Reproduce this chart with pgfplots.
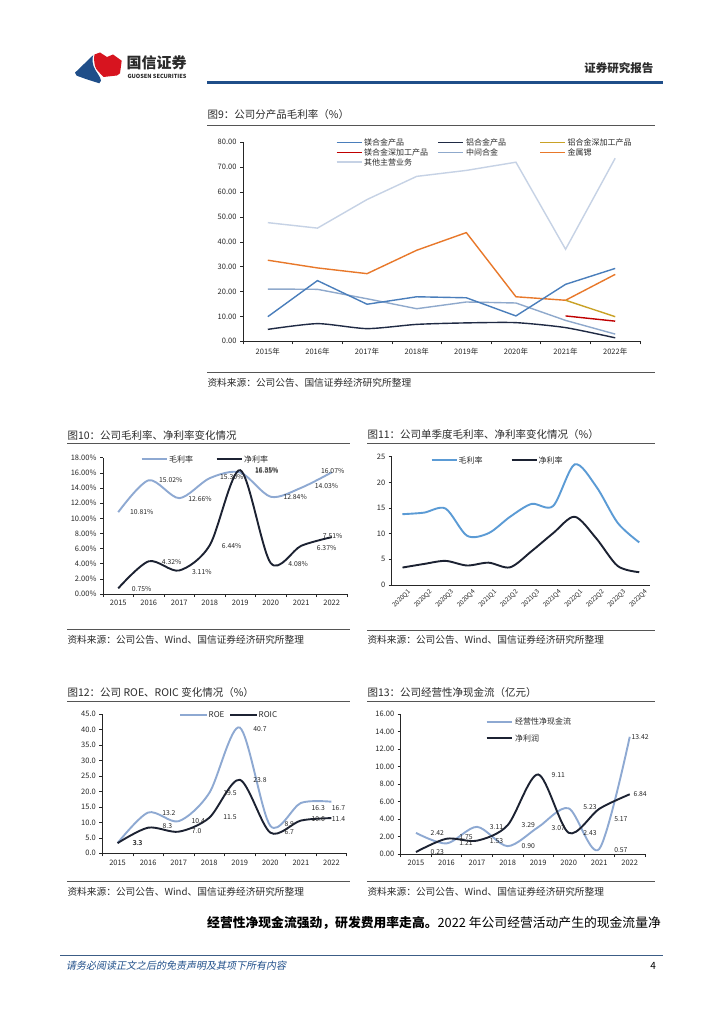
\documentclass[border=0pt]{standalone}
\usepackage{fontspec}
\setmainfont{Noto Sans CJK SC}
\newfontfamily\slcjk[FakeSlant=0.2]{Noto Sans CJK SC}
\usepackage{pgfplots}
\pgfplotsset{compat=1.18}

\definecolor{gsblue}{HTML}{1F4E89}
\definecolor{gsred}{HTML}{D7141F}
\definecolor{cMg}{HTML}{4A7EBB}
\definecolor{cAl}{HTML}{1F2A44}
\definecolor{cAlD}{HTML}{C9A227}
\definecolor{cMgD}{HTML}{C00000}
\definecolor{cMid}{HTML}{8FA9CC}
\definecolor{cSr}{HTML}{E8782A}
\definecolor{cOth}{HTML}{C6D2E5}
\definecolor{cGray}{HTML}{8EA9D2}
\definecolor{cDark}{HTML}{1C2232}
\definecolor{cBlue}{HTML}{5B9BD5}
\definecolor{txt}{HTML}{2B2B2B}
\definecolor{rule}{HTML}{555555}

\pgfplotsset{
  base/.style={scale only axis, anchor=south west, axis lines=left,
    axis line style={-, black!85, line width=0.6pt},
    tick align=outside, major tick length=3pt,
    tick style={black!85, line width=0.6pt},
    ticklabel style={font=\fontsize{7.5}{8}\selectfont, text=black!85},
    /pgf/number format/assume math mode=true, clip=false},
  catx/.style={xmin=-0.5, xmax=7.5, xtick={0,...,7},
    major x tick style={draw=none},
    minor xtick={-0.5,0.5,...,7.5},
    minor x tick style={draw=black!85, line width=0.6pt},
    minor tick length=3pt},
}
\tikzset{dl/.style={font=\fontsize{6.8}{7}\selectfont, text=black!85, inner sep=0pt},
  ttl/.style={anchor=west, font=\fontsize{10.5}{11}\selectfont, text=txt},
  src/.style={anchor=west, font=\fontsize{9.7}{10}\selectfont, text=txt},
  lg/.style={anchor=west, font=\fontsize{8}{8}\selectfont, text=txt, inner sep=1pt}}

\begin{document}
\begin{tikzpicture}
\begin{scope}[x=1pt,y=1pt]
\fill[white] (0,0) rectangle (724,-1024);
% ---------- header ----------
\fill[gsblue] (93.3,-55) -- (75,-72.7) -- (76.7,-75.7) -- (86.7,-79.3) -- (99.3,-83.3) -- (101,-80.7)
  .. controls (101,-77) and (95,-71) .. (93.5,-66) .. controls (92,-61) and (92.5,-57) .. (93.3,-55) -- cycle;
\fill[gsred] (94.5,-54.5) -- (100,-52.5) -- (107,-57) -- (113,-54.5) -- (121.7,-60.7) -- (120,-73.3) -- (117,-75.5) -- (103.5,-77)
  .. controls (100,-73) and (96,-70) .. (95,-66) .. controls (93.8,-61) and (94,-57) .. (94.5,-54.5) -- cycle;
\node[anchor=west, font=\fontsize{15}{15}\selectfont\bfseries, text=txt] at (123,-62.5) {国信证券};
\node[anchor=west, font=\fontsize{5.6}{6}\selectfont\bfseries, text=txt] at (124,-76) {GUOSEN SECURITIES};
\node[anchor=east, font=\fontsize{11.5}{12}\selectfont\bfseries, text=txt] at (657,-68.3) {证券研究报告};
\draw[gsblue, line width=2.2pt] (207,-82.5) -- (663,-82.5);

% ---------- chart 9 frame ----------
\node[ttl] at (204,-115) {图9：公司分产品毛利率（\%）};
\draw[rule, line width=0.8pt] (207,-125) -- (655,-125);
\draw[rule, line width=0.8pt] (207,-372.3) -- (655,-372.3);
\node[src] at (204,-383.3) {资料来源：公司公告、国信证券经济研究所整理};
% legend 9
\draw[cMg, line width=1.5pt] (336.7,-142.3) -- (361.7,-142.3); \node[lg] at (363,-142.3) {镁合金产品};
\draw[cAl, line width=1.5pt] (438.3,-142.3) -- (463.3,-142.3); \node[lg] at (465,-142.3) {铝合金产品};
\draw[cAlD, line width=1.5pt] (540,-142.3) -- (565,-142.3); \node[lg] at (566.5,-142.3) {铝合金深加工产品};
\draw[cMgD, line width=1.5pt] (336.7,-152.3) -- (361.7,-152.3); \node[lg] at (363,-152.3) {镁合金深加工产品};
\draw[cMid, line width=1.5pt] (438.3,-152.3) -- (463.3,-152.3); \node[lg] at (465,-152.3) {中间合金};
\draw[cSr, line width=1.5pt] (540,-152.3) -- (565,-152.3); \node[lg] at (566.5,-152.3) {金属锶};
\draw[cOth, line width=1.5pt] (336.7,-162) -- (361.7,-162); \node[lg] at (363,-162) {其他主营业务};

% ---------- chart 10 frame ----------
\node[ttl] at (64,-435) {图10：公司毛利率、净利率变化情况};
\draw[rule, line width=0.8pt] (67,-443.3) -- (350,-443.3);
\draw[rule, line width=0.8pt] (67,-629.3) -- (350,-629.3);
\node[src] at (64,-640) {资料来源：公司公告、Wind、国信证券经济研究所整理};
\draw[cGray, line width=2pt] (141.7,-459) -- (166.7,-459); \node[lg] at (168,-459) {毛利率};
\draw[cDark, line width=2pt] (216.7,-459) -- (241.7,-459); \node[lg] at (243,-459) {净利率};

% ---------- chart 11 frame ----------
\node[ttl] at (364,-435) {图11：公司单季度毛利率、净利率变化情况（\%）};
\draw[rule, line width=0.8pt] (367,-443.3) -- (655,-443.3);
\draw[rule, line width=0.8pt] (367,-630.3) -- (655,-630.3);
\node[src] at (364,-640) {资料来源：公司公告、Wind、国信证券经济研究所整理};
\draw[cBlue, line width=2pt] (431.7,-460) -- (456.7,-460); \node[lg] at (457.5,-460) {毛利率};
\draw[cDark, line width=2pt] (511.7,-460) -- (536.7,-460); \node[lg] at (537.5,-460) {净利率};

% ---------- chart 12 frame ----------
\node[ttl] at (64,-692.7) {图12：公司 ROE、ROIC 变化情况（\%）};
\draw[rule, line width=0.8pt] (67,-701.7) -- (350,-701.7);
\draw[rule, line width=0.8pt] (67,-881) -- (350,-881);
\node[src] at (64,-891.5) {资料来源：公司公告、Wind、国信证券经济研究所整理};
\draw[cGray, line width=2pt] (180,-715) -- (206.7,-715); \node[lg] at (207.5,-715) {ROE};
\draw[cDark, line width=2pt] (230,-715) -- (256.7,-715); \node[lg] at (257.5,-715) {ROIC};

% ---------- chart 13 frame ----------
\node[ttl] at (364,-692.7) {图13：公司经营性净现金流（亿元）};
\draw[rule, line width=0.8pt] (367,-701.7) -- (655,-701.7);
\draw[rule, line width=0.8pt] (367,-881) -- (655,-881);
\node[src] at (364,-891.5) {资料来源：公司公告、Wind、国信证券经济研究所整理};
\draw[cGray, line width=2pt] (486.7,-721.7) -- (511.7,-721.7); \node[lg] at (514,-721.7) {经营性净现金流};
\draw[cDark, line width=2pt] (486.7,-738.3) -- (511.7,-738.3); \node[lg] at (514,-738.3) {净利润};

% ---------- body text & footer ----------
\node[anchor=west, font=\fontsize{12.8}{13}\selectfont, text=black, inner sep=0pt] at (207,-923)
  {{\bfseries 经营性净现金流强劲，研发费用率走高。}2022 年公司经营活动产生的现金流量净};
\draw[gsblue!70!gray, line width=0.7pt] (60,-955) -- (663,-955);
\node[anchor=west, font=\fontsize{10}{10}\selectfont\slcjk, text=gsblue, inner sep=0pt] at (66,-966) {请务必阅读正文之后的免责声明及其项下所有内容};
\node[anchor=east, font=\fontsize{10}{10}\selectfont, text=black, inner sep=0pt] at (656,-966) {4};
\end{scope}

% ================= chart 9 =================
\begin{axis}[base, catx, at={(243pt,-341.3pt)}, width=397pt, height=199pt,
  ymin=0, ymax=80, ytick={0,10,...,80},
  xticklabels={2015年,2016年,2017年,2018年,2019年,2020年,2021年,2022年},
  yticklabel style={/pgf/number format/.cd, fixed, fixed zerofill, precision=2}]
\addplot[cOth, line width=1.4pt] coordinates {(0,47.7) (1,45.5) (2,57.0) (3,66.3) (4,68.7) (5,72.0) (6,37.0) (7,73.6)};
\addplot[cSr, line width=1.4pt] coordinates {(0,32.6) (1,29.5) (2,27.2) (3,36.6) (4,43.7) (5,17.9) (6,16.5) (7,26.9)};
\addplot[cMid, line width=1.4pt] coordinates {(0,21.0) (1,20.9) (2,17.1) (3,13.1) (4,15.8) (5,15.4) (6,8.4) (7,2.9)};
\addplot[cMg, line width=1.4pt] coordinates {(0,9.9) (1,24.4) (2,14.9) (3,17.9) (4,17.5) (5,10.2) (6,22.9) (7,29.3)};
\addplot[cAl, line width=1.4pt, smooth, tension=0.4] coordinates {(0,4.8) (1,7.1) (2,5.1) (3,6.8) (4,7.4) (5,7.5) (6,5.5) (7,1.4)};
\addplot[cAlD, line width=1.4pt] coordinates {(6,16.5) (7,9.9)};
\addplot[cMgD, line width=1.4pt] coordinates {(6,10.2) (7,8.1)};
\end{axis}

% ================= chart 10 =================
\begin{axis}[base, catx, at={(103pt,-594pt)}, width=244pt, height=136.3pt,
  ymin=0, ymax=18, ytick={0,2,...,18},
  xticklabels={2015,2016,2017,2018,2019,2020,2021,2022},
  yticklabel={\pgfmathprintnumber[fixed,fixed zerofill,precision=2,assume math mode=true]{\tick}\%}]
\addplot[cGray, line width=1.9pt, smooth] coordinates {(0,10.81) (1,15.02) (2,12.66) (3,15.30) (4,16.05) (5,12.84) (6,14.03) (7,16.07)};
\addplot[cDark, line width=1.9pt, smooth] coordinates {(0,0.75) (1,4.32) (2,3.11) (3,6.44) (4,16.35) (5,4.08) (6,6.37) (7,7.51)};
\node[dl] at (axis cs:0.77,10.8) {10.81\%};
\node[dl] at (axis cs:1.72,15.06) {15.02\%};
\node[dl] at (axis cs:2.68,12.55) {12.66\%};
\node[dl] at (axis cs:3.72,15.4) {15.30\%};
\node[dl] at (axis cs:4.87,16.25) {16.05\%};
\node[dl] at (axis cs:5.8,12.8) {12.84\%};
\node[dl] at (axis cs:6.83,14.2) {14.03\%};
\node[dl] at (axis cs:7.03,16.2) {16.07\%};
\node[dl] at (axis cs:0.77,0.6) {0.75\%};
\node[dl] at (axis cs:1.75,4.2) {4.32\%};
\node[dl] at (axis cs:2.74,2.9) {3.11\%};
\node[dl] at (axis cs:3.72,6.3) {6.44\%};
\node[dl] at (axis cs:4.87,16.4) {16.35\%};
\node[dl] at (axis cs:5.9,3.9) {4.08\%};
\node[dl] at (axis cs:6.83,6.1) {6.37\%};
\node[dl] at (axis cs:7.03,7.6) {7.51\%};
\end{axis}

% ================= chart 11 =================
\begin{axis}[base, at={(391.7pt,-585pt)}, width=258.3pt, height=128.3pt,
  xmin=-0.5, xmax=11.5, xtick={0,...,11}, major x tick style={draw=none},
  ymin=0, ymax=25, ytick={0,5,...,25},
  xticklabels={2020Q1,2020Q2,2020Q3,2020Q4,2021Q1,2021Q2,2021Q3,2021Q4,2022Q1,2022Q2,2022Q3,2022Q4},
  xticklabel style={rotate=45, anchor=east, inner sep=1pt, yshift=-7pt, xshift=4pt, font=\fontsize{6.3}{6.3}\selectfont}]
\addplot[cBlue, line width=1.9pt, smooth] coordinates {(0,13.8) (1,14.1) (2,14.9) (3,9.6) (4,10.1) (5,13.3) (6,15.8) (7,15.4) (8,23.5) (9,19.2) (10,12.1) (11,8.3)};
\addplot[cDark, line width=1.9pt, smooth] coordinates {(0,3.4) (1,4.1) (2,4.7) (3,3.8) (4,4.35) (5,3.45) (6,6.6) (7,10.1) (8,13.3) (9,9.1) (10,3.7) (11,2.5)};
\end{axis}

% ================= chart 12 =================
\begin{axis}[base, catx, at={(102.3pt,-853.3pt)}, width=244.4pt, height=139pt,
  ymin=0, ymax=45, ytick={0,5,...,45},
  xticklabels={2015,2016,2017,2018,2019,2020,2021,2022},
  yticklabel style={/pgf/number format/.cd, fixed, fixed zerofill, precision=1}]
\addplot[cGray, line width=1.9pt, smooth] coordinates {(0,3.3) (1,13.2) (2,10.4) (3,19.5) (4,40.7) (5,8.9) (6,16.3) (7,16.7)};
\addplot[cDark, line width=1.9pt, smooth] coordinates {(0,3.3) (1,8.3) (2,7.0) (3,11.5) (4,23.8) (5,6.7) (6,10.6) (7,11.4)};
\node[dl] at (axis cs:0.65,3.4) {3.3};
\node[dl] at (axis cs:0.66,3.3) {3.3};
\node[dl] at (axis cs:1.68,13.1) {13.2};
\node[dl] at (axis cs:1.63,8.8) {8.3};
\node[dl] at (axis cs:2.64,10.4) {10.4};
\node[dl] at (axis cs:2.59,7.2) {7.0};
\node[dl] at (axis cs:3.68,19.4) {19.5};
\node[dl] at (axis cs:3.68,11.65) {11.5};
\node[dl] at (axis cs:4.66,40.1) {40.7};
\node[dl] at (axis cs:4.66,23.7) {23.8};
\node[dl] at (axis cs:5.62,9.5) {8.9};
\node[dl] at (axis cs:5.62,6.8) {6.7};
\node[dl] at (axis cs:6.57,14.8) {16.3};
\node[dl] at (axis cs:6.57,11.1) {10.6};
\node[dl] at (axis cs:7.23,14.8) {16.7};
\node[dl] at (axis cs:7.23,11.1) {11.4};
\end{axis}

% ================= chart 13 =================
\begin{axis}[base, catx, at={(400.7pt,-854pt)}, width=244.3pt, height=139.7pt,
  ymin=0, ymax=16, ytick={0,2,...,16},
  xticklabels={2015,2016,2017,2018,2019,2020,2021,2022},
  yticklabel style={/pgf/number format/.cd, fixed, fixed zerofill, precision=2}]
\addplot[cGray, line width=1.9pt, smooth] coordinates {(0,2.42) (1,1.21) (2,3.11) (3,0.90) (4,3.07) (5,5.23) (6,0.57) (7,13.42)};
\addplot[cDark, line width=1.9pt, smooth] coordinates {(0,0.23) (1,1.75) (2,1.53) (3,3.29) (4,9.11) (5,2.43) (6,5.17) (7,6.84)};
\node[dl] at (axis cs:0.70,2.37) {2.42};
\node[dl] at (axis cs:0.70,0.27) {0.23};
\node[dl] at (axis cs:1.64,1.9) {1.75};
\node[dl] at (axis cs:1.64,1.22) {1.21};
\node[dl] at (axis cs:2.64,3.13) {3.11};
\node[dl] at (axis cs:2.64,1.53) {1.53};
\node[dl] at (axis cs:3.68,3.3) {3.29};
\node[dl] at (axis cs:3.68,0.95) {0.90};
\node[dl] at (axis cs:4.66,9.05) {9.11};
\node[dl] at (axis cs:4.66,2.94) {3.07};
\node[dl] at (axis cs:5.7,5.4) {5.23};
\node[dl] at (axis cs:5.7,2.37) {2.43};
\node[dl] at (axis cs:6.71,3.97) {5.17};
\node[dl] at (axis cs:6.71,0.46) {0.57};
\node[dl] at (axis cs:7.34,13.44) {13.42};
\node[dl] at (axis cs:7.34,6.84) {6.84};
\end{axis}
\end{tikzpicture}
\end{document}
